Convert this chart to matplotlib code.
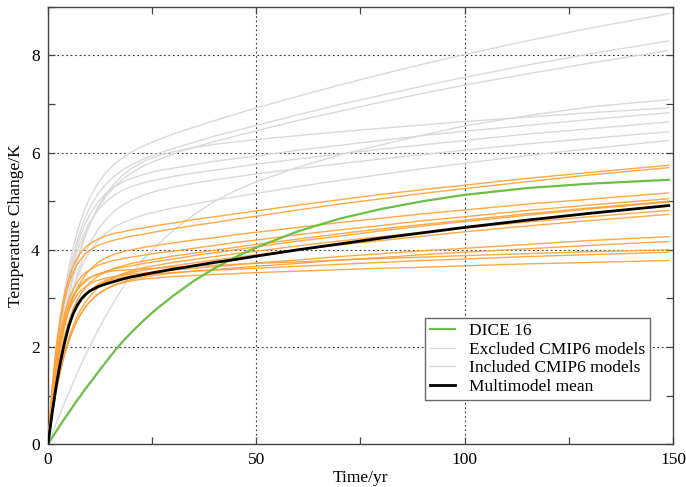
import matplotlib
matplotlib.use('Agg')
import matplotlib.pyplot as plt
from matplotlib.lines import Line2D
from matplotlib.ticker import MultipleLocator

# time axis (years after abrupt 4xCO2)
years = [0, 1, 2, 3, 4, 5, 6, 7, 8, 9, 10, 12, 14, 16, 18, 20, 23, 26, 30, 35, 40, 45, 50,
         60, 70, 80, 90, 100, 115, 130, 149]

# DICE 2016 response
dice16 = [0, 0.135, 0.27, 0.40, 0.53, 0.65, 0.78, 0.90, 1.02, 1.14, 1.25, 1.48, 1.70, 1.92,
          2.12, 2.30, 2.55, 2.78, 3.05, 3.36, 3.62, 3.85, 4.05, 4.38, 4.64, 4.84, 5.00, 5.13,
          5.27, 5.36, 5.44]

# multimodel mean of the included models
mm_mean = [0, 0.65, 1.22, 1.70, 2.10, 2.43, 2.68, 2.86, 2.99, 3.08, 3.15, 3.24, 3.30, 3.35,
           3.40, 3.44, 3.49, 3.54, 3.60, 3.67, 3.74, 3.80, 3.87, 4.00, 4.12, 4.24, 4.35, 4.46,
           4.61, 4.75, 4.91]

# excluded CMIP6 models (grey)
excluded = [
    [0, 1.03, 1.88, 2.58, 3.16, 3.63, 4.03, 4.36, 4.64, 4.87, 5.07, 5.37, 5.60, 5.77, 5.90, 6.01,
     6.14, 6.25, 6.38, 6.52, 6.66, 6.79, 6.92, 7.16, 7.39, 7.61, 7.82, 8.02, 8.30, 8.56, 8.86],
    [0, 0.99, 1.80, 2.48, 3.03, 3.49, 3.87, 4.19, 4.45, 4.68, 4.86, 5.15, 5.36, 5.52, 5.65, 5.75,
     5.87, 5.97, 6.08, 6.21, 6.34, 6.45, 6.56, 6.78, 6.99, 7.18, 7.37, 7.55, 7.80, 8.03, 8.30],
    [0, 0.83, 1.54, 2.15, 2.66, 3.10, 3.48, 3.80, 4.08, 4.32, 4.52, 4.86, 5.11, 5.30, 5.46, 5.58,
     5.73, 5.84, 5.97, 6.11, 6.23, 6.34, 6.45, 6.66, 6.85, 7.04, 7.22, 7.39, 7.62, 7.84, 8.10],
    [0, 0.22, 0.44, 0.65, 0.86, 1.06, 1.26, 1.46, 1.65, 1.83, 2.00, 2.34, 2.66, 2.95, 3.23, 3.50,
     3.82, 4.08, 4.40, 4.72, 5.00, 5.22, 5.40, 5.70, 5.95, 6.16, 6.36, 6.55, 6.76, 6.94, 7.09],
    [0, 0.78, 1.46, 2.05, 2.57, 3.01, 3.40, 3.74, 4.03, 4.29, 4.51, 4.88, 5.16, 5.37, 5.54, 5.67,
     5.82, 5.92, 6.02, 6.10, 6.17, 6.22, 6.27, 6.35, 6.43, 6.50, 6.57, 6.64, 6.73, 6.82, 6.92],
    [0, 0.97, 1.77, 2.43, 2.97, 3.42, 3.78, 4.09, 4.34, 4.54, 4.72, 4.98, 5.17, 5.30, 5.40, 5.47,
     5.55, 5.62, 5.68, 5.75, 5.82, 5.88, 5.93, 6.05, 6.15, 6.25, 6.35, 6.44, 6.56, 6.68, 6.82],
    [0, 0.94, 1.72, 2.35, 2.88, 3.31, 3.66, 3.96, 4.20, 4.40, 4.57, 4.82, 5.00, 5.13, 5.23, 5.30,
     5.38, 5.44, 5.51, 5.58, 5.64, 5.70, 5.76, 5.87, 5.97, 6.07, 6.16, 6.25, 6.38, 6.49, 6.63],
    [0, 0.77, 1.42, 1.98, 2.45, 2.85, 3.19, 3.49, 3.74, 3.95, 4.13, 4.42, 4.64, 4.80, 4.92, 5.02,
     5.13, 5.21, 5.29, 5.37, 5.44, 5.50, 5.56, 5.67, 5.77, 5.87, 5.96, 6.05, 6.18, 6.29, 6.43],
    [0, 0.81, 1.48, 2.03, 2.48, 2.85, 3.16, 3.42, 3.63, 3.81, 3.95, 4.18, 4.35, 4.47, 4.56, 4.63,
     4.72, 4.78, 4.86, 4.94, 5.02, 5.09, 5.16, 5.30, 5.43, 5.55, 5.67, 5.78, 5.94, 6.08, 6.25],
]

# included CMIP6 models (orange)
included = [
    [0, 1.18, 2.04, 2.65, 3.10, 3.42, 3.65, 3.83, 3.95, 4.05, 4.12, 4.22, 4.29, 4.34, 4.37, 4.41,
     4.45, 4.50, 4.55, 4.62, 4.68, 4.74, 4.80, 4.92, 5.03, 5.14, 5.24, 5.33, 5.47, 5.59, 5.74],
    [0, 1.14, 1.96, 2.56, 2.99, 3.30, 3.53, 3.70, 3.82, 3.92, 3.99, 4.09, 4.15, 4.20, 4.24, 4.28,
     4.32, 4.37, 4.43, 4.50, 4.56, 4.63, 4.69, 4.82, 4.94, 5.05, 5.16, 5.26, 5.40, 5.54, 5.69],
    [0, 0.85, 1.51, 2.03, 2.44, 2.76, 3.01, 3.21, 3.36, 3.49, 3.59, 3.74, 3.84, 3.91, 3.96, 4.00,
     4.05, 4.09, 4.14, 4.20, 4.25, 4.31, 4.36, 4.46, 4.56, 4.65, 4.74, 4.82, 4.94, 5.04, 5.17],
    [0, 1.03, 1.77, 2.31, 2.70, 2.98, 3.18, 3.33, 3.45, 3.53, 3.59, 3.68, 3.74, 3.78, 3.82, 3.85,
     3.89, 3.93, 3.97, 4.03, 4.09, 4.15, 4.20, 4.31, 4.41, 4.50, 4.60, 4.68, 4.81, 4.92, 5.05],
    [0, 0.78, 1.39, 1.87, 2.25, 2.54, 2.78, 2.96, 3.11, 3.22, 3.32, 3.46, 3.55, 3.62, 3.67, 3.72,
     3.77, 3.81, 3.87, 3.93, 3.99, 4.05, 4.11, 4.22, 4.33, 4.43, 4.52, 4.61, 4.74, 4.86, 5.00],
    [0, 0.98, 1.68, 2.19, 2.56, 2.82, 3.02, 3.17, 3.27, 3.35, 3.42, 3.50, 3.56, 3.61, 3.64, 3.67,
     3.72, 3.76, 3.81, 3.88, 3.94, 4.00, 4.06, 4.18, 4.28, 4.39, 4.49, 4.58, 4.71, 4.84, 4.98],
    [0, 0.62, 1.14, 1.56, 1.91, 2.19, 2.43, 2.63, 2.79, 2.93, 3.04, 3.22, 3.34, 3.44, 3.51, 3.56,
     3.63, 3.68, 3.74, 3.80, 3.86, 3.92, 3.97, 4.08, 4.18, 4.27, 4.36, 4.45, 4.57, 4.68, 4.81],
    [0, 0.74, 1.32, 1.78, 2.13, 2.42, 2.64, 2.81, 2.95, 3.06, 3.15, 3.29, 3.38, 3.44, 3.49, 3.53,
     3.58, 3.62, 3.67, 3.73, 3.79, 3.84, 3.90, 4.00, 4.10, 4.19, 4.28, 4.37, 4.49, 4.60, 4.73],
    [0, 0.95, 1.64, 2.13, 2.49, 2.75, 2.93, 3.07, 3.17, 3.24, 3.30, 3.37, 3.42, 3.45, 3.48, 3.50,
     3.52, 3.55, 3.58, 3.62, 3.65, 3.69, 3.73, 3.79, 3.86, 3.92, 3.98, 4.03, 4.11, 4.19, 4.27],
    [0, 0.60, 1.10, 1.51, 1.85, 2.12, 2.35, 2.54, 2.69, 2.82, 2.93, 3.09, 3.20, 3.28, 3.34, 3.39,
     3.44, 3.48, 3.52, 3.56, 3.59, 3.63, 3.66, 3.72, 3.79, 3.84, 3.90, 3.95, 4.02, 4.09, 4.17],
    [0, 1.00, 1.72, 2.23, 2.60, 2.87, 3.06, 3.20, 3.30, 3.38, 3.43, 3.50, 3.54, 3.57, 3.58, 3.59,
     3.61, 3.62, 3.64, 3.66, 3.68, 3.70, 3.72, 3.75, 3.79, 3.82, 3.85, 3.88, 3.92, 3.96, 4.00],
    [0, 0.75, 1.34, 1.80, 2.16, 2.44, 2.66, 2.83, 2.97, 3.07, 3.16, 3.28, 3.35, 3.40, 3.44, 3.46,
     3.49, 3.51, 3.53, 3.56, 3.58, 3.60, 3.62, 3.66, 3.70, 3.74, 3.78, 3.81, 3.86, 3.90, 3.95],
    [0, 0.61, 1.11, 1.52, 1.86, 2.13, 2.36, 2.55, 2.70, 2.83, 2.93, 3.09, 3.19, 3.27, 3.32, 3.36,
     3.40, 3.42, 3.45, 3.47, 3.49, 3.51, 3.53, 3.56, 3.59, 3.62, 3.64, 3.67, 3.71, 3.74, 3.78],
]

legend_labels = ['DICE 16', 'Excluded CMIP6 models', 'Included CMIP6 models', 'Multimodel mean']

GREY = '#d9d9d9'
ORANGE = '#ffa033'
GREEN = '#6cbf45'

plt.rcParams['font.family'] = ['Liberation Serif', 'DejaVu Serif']
plt.rcParams['font.size'] = 12.5

fig = plt.figure(figsize=(6.86, 4.87), dpi=100)
ax = fig.add_axes([0.070, 0.088, 0.911, 0.898])

for curve in excluded:
    ax.plot(years, curve, color=GREY, lw=1.0, zorder=2)
for curve in included:
    ax.plot(years, curve, color=ORANGE, lw=1.0, alpha=0.9, zorder=3)
ax.plot(years, dice16, color=GREEN, lw=1.6, zorder=4)
ax.plot(years, mm_mean, color='black', lw=2.0, zorder=5)

ax.set_xlim(0, 150)
ax.set_ylim(0, 9)
ax.xaxis.set_major_locator(MultipleLocator(50))
ax.xaxis.set_minor_locator(MultipleLocator(25))
ax.yaxis.set_major_locator(MultipleLocator(2))
ax.yaxis.set_minor_locator(MultipleLocator(1))
ax.tick_params(which='both', direction='in', top=True, right=True,
               length=5, width=0.9, color='#444444', labelsize=12.5, pad=6)
ax.grid(True, which='major', linestyle=(0, (1.5, 2.5)), color='#333333', lw=0.8, zorder=1)
for s in ax.spines.values():
    s.set_color('#444444')
    s.set_linewidth(1.0)

ax.set_xlabel('Time/yr', labelpad=1)
ax.set_ylabel('Temperature Change/K', labelpad=5)

# legend (both CMIP6 entries drawn in grey, as in the original)
handles = [Line2D([], [], color=GREEN, lw=1.6),
           Line2D([], [], color=GREY, lw=1.0),
           Line2D([], [], color=GREY, lw=1.0),
           Line2D([], [], color='black', lw=2.0)]
leg = ax.legend(handles, legend_labels, loc='lower right', bbox_to_anchor=(0.963, 0.10),
                fancybox=False, framealpha=1, edgecolor='#666666', fontsize=12.5,
                handlelength=1.45, borderpad=0.3, labelspacing=0.15, handletextpad=0.75,
                borderaxespad=0)
leg.get_frame().set_linewidth(1.0)

plt.savefig('out.png', dpi=100)
